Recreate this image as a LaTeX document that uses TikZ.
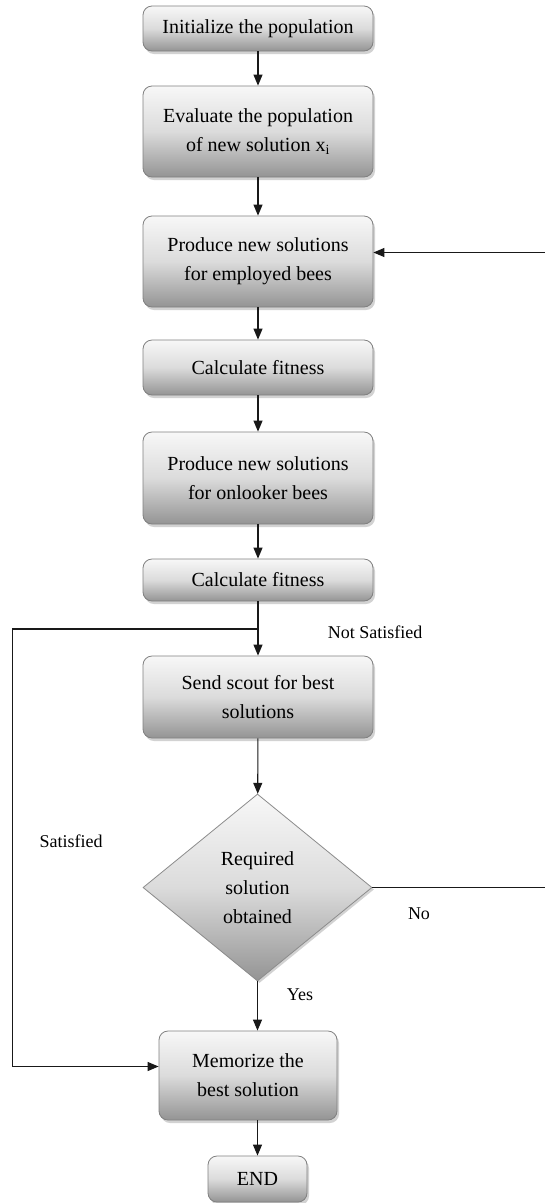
\documentclass[tikz,border=0pt]{standalone}
\usepackage{fontspec}
\setmainfont{Liberation Serif}
\usetikzlibrary{shapes.geometric,arrows.meta,shadows}
\begin{document}
\begin{tikzpicture}[x=1pt,y=-1pt,
  boxshade/.style={top color=black!3, bottom color=black!42, middle color=black!14},
  box/.style={draw=black!50, line width=0.8pt, rounded corners=9pt, boxshade,
    drop shadow={shadow xshift=2pt, shadow yshift=-3pt, fill=black!35},
    minimum width=230pt, inner sep=0pt, align=center,
    font=\fontsize{20}{29}\selectfont},
  decision/.style={diamond, draw=black!45, line width=0.8pt, boxshade,
    drop shadow={shadow xshift=2pt, shadow yshift=-2pt, fill=black!35},
    minimum width=229pt, minimum height=187pt, inner sep=0pt, align=center,
    font=\fontsize{20}{29}\selectfont},
  lbl/.style={inner sep=0pt, font=\fontsize{18}{22}\selectfont},
  conn/.style={draw=black!90, line width=1.1pt},
  arr/.style={conn, -{Triangle[length=11pt,width=9pt]}}]
\useasboundingbox (0,0) rectangle (544,1203);
\fill[white] (0,0) rectangle (544,1203);

\node[box, minimum height=45pt] (b1) at (258,28.5) {Initialize the population};
\node[box, minimum height=91pt] (b2) at (258,131.5) {Evaluate the population\\of new solution x\textsubscript{i}};
\node[box, minimum height=91pt] (b3) at (258,261.5) {Produce new solutions\\for employed bees};
\node[box, minimum height=55pt] (b4) at (258,367.5) {Calculate fitness};
\node[box, minimum height=92pt] (b5) at (258,478) {Produce new solutions\\for onlooker bees};
\node[box, minimum height=42pt] (b6) at (258,580) {Calculate fitness};
\node[box, minimum height=82pt] (b7) at (258,697) {Send scout for best\\solutions};
\node[decision] (dia) at (257.5,887.5) {Required\\solution\\obtained};
\node[box, minimum width=178pt, minimum height=89pt] (b8) at (248,1075.5) {Memorize the\\best solution};
\node[box, minimum width=99pt, minimum height=46pt] (end) at (257.5,1179) {END};

\node[lbl] (ns) at (375,632) {Not Satisfied};
\node[lbl] (sat) at (71,841) {Satisfied};
\node[lbl] (no) at (419,914) {No};
\node[lbl] (yes) at (300,995) {Yes};

\coordinate (j) at (258,629);
\coordinate (lc) at (12.5,0);
\coordinate (rc) at (546,0);
\coordinate (b3in) at ([yshift=9pt]b3.east);
\coordinate (b8in) at ([yshift=9pt]b8.west);

\draw[arr] (b1) -- (b2);
\draw[arr] (b2) -- (b3);
\draw[arr] (b3) -- (b4);
\draw[arr] (b4) -- (b5);
\draw[arr] (b5) -- (b6);
\draw[conn] (b6) -- (j);
\draw[arr] (j) -- (b7);
\draw[arr] (b7) -- (dia);
\draw[arr] (dia.south) -- (dia.south |- b8.north);
\draw[arr] (b8.south -| end.north) -- (end.north);
\draw[arr] (j) -- (j -| lc) -- (b8in -| lc) -- (b8in);
\draw[arr] (dia.east) -- (dia.east -| rc) -- (b3in -| rc) -- (b3in);
\end{tikzpicture}
\end{document}
